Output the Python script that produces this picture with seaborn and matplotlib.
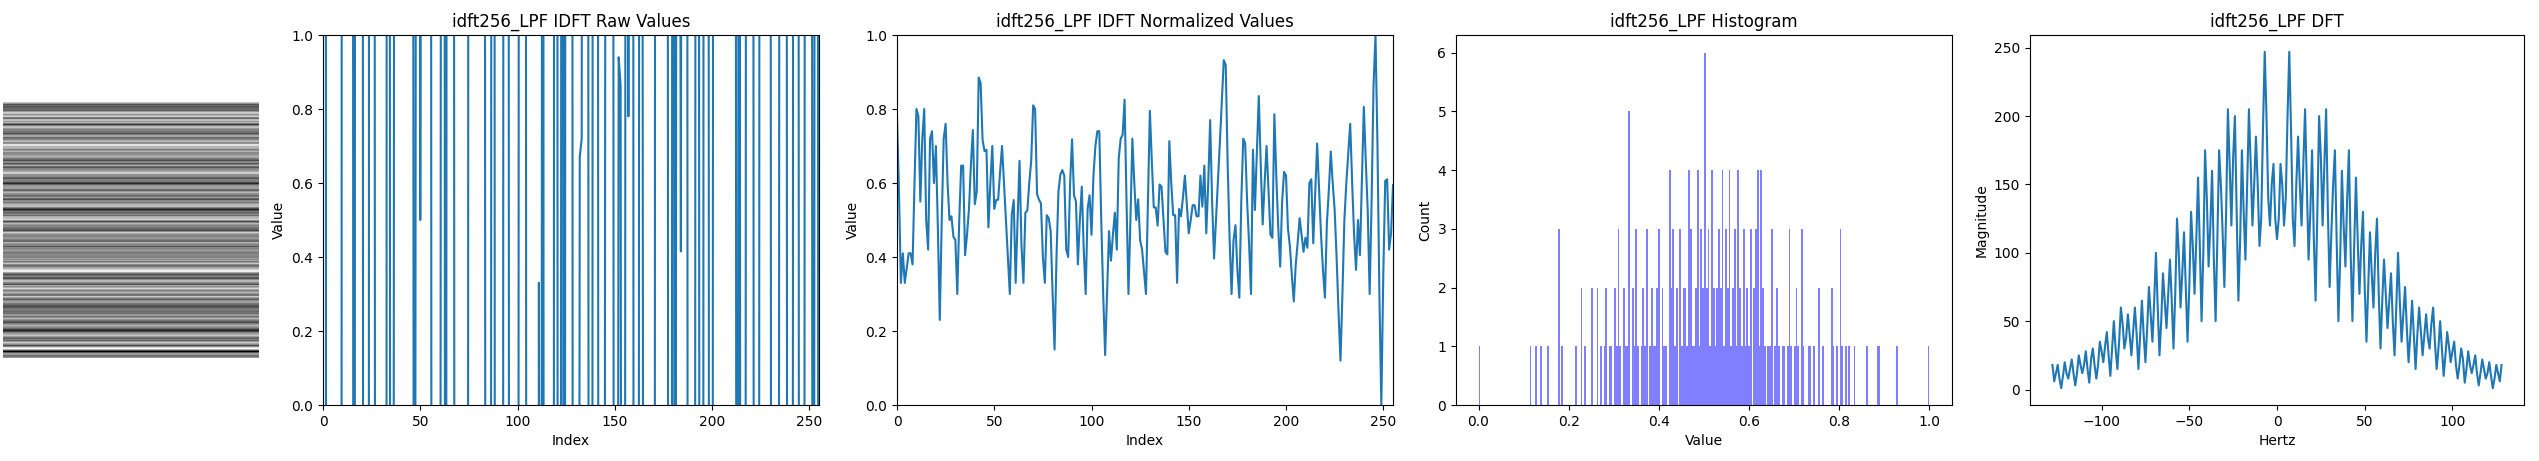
import numpy as np
import seaborn as sns
import matplotlib
matplotlib.use("Agg")
import matplotlib.pyplot as plt

NAME = "idft256_LPF"

# normalized IDFT values
norm_values = [
    .78, .58, .33, .41, .33, .37, .41, .41, .38, .60, .80, .78, .55, .72, .80, .50,
    .42, .72, .74, .60, .70, .48, .23, .50, .72, .76, .60, .50, .51, .455, .446, .30,
    .50, .647, .647, .405, .46, .53, .65, .743, .543, .577, .885, .87, .716, .686, .69, .48,
    .60, .70, .53, .554, .555, .63, .70, .60, .50, .40, .30, .514, .554, .33, .50, .66,
    .43, .33, .52, .525, .60, .66, .81, .80, .57, .555, .545, .40, .33, .513, .505, .47,
    .30, .15, .40, .577, .623, .635, .62, .42, .40, .60, .718, .567, .55, .38, .50, .59,
    .42, .30, .53, .567, .46, .62, .70, .74, .74, .50, .30, .135, .30, .47, .39, .46,
    .52, .42, .667, .72, .73, .825, .55, .30, .50, .72, .60, .50, .556, .445, .42, .36,
    .30, .55, .795, .66, .534, .534, .485, .596, .59, .50, .414, .407, .713, .60, .513, .513,
    .33, .53, .51, .56, .62, .54, .464, .50, .54, .54, .51, .51, .62, .536, .647, .464,
    .60, .77, .55, .396, .50, .60, .71, .82, .932, .919, .65, .45, .30, .446, .486, .365,
    .29, .55, .72, .707, .55, .437, .30, .69, .527, .68, .835, .65, .488, .60, .70, .58,
    .46, .452, .786, .62, .48, .374, .55, .63, .62, .477, .428, .35, .28, .38, .44, .505,
    .46, .414, .452, .425, .60, .61, .437, .57, .707, .58, .46, .365, .29, .49, .58, .685,
    .60, .527, .40, .25, .12, .30, .50, .60, .68, .76, .60, .46, .365, .50, .405, .60,
    .806, .66, .527, .30, .55, .865, 1.0, .707, .30, .0, .35, .606, .61, .42, .464, .595,
]

# raw values mostly run far outside 0..1, only the sign changes show up as spikes
raw_values = [
    9, 14,
    -12, -8, -15, -11, -13, -10, -9, -14,
    11, 10, 9, 12, 13, 8,
    -7,
    12, 9, 10, 8,
    -6, -11, -14,
    10, 12, 7,
    -3, -4, -5, -6, -8, -12,
    6, 6,
    -7, -3,
    5, 9, 11, 6, 16, 15, 10, 8, 8, 4,
    -3,
    3, 7, 0.5, 4, 5, 9, 12, 7,
    -3, -6, -9, -12, -4,
    5, 8,
    -4,
    6, 9, 7, 5,
    -5, -8, -10, -6, -3, -7, -9,
    6, 9, 12, 14, 10, 8, 5, 9, 4,
    -6, -8, -5,
    7, 4,
    -9, -6, -4, -8,
    5, 9, 7,
    -5, -9, -4, -6, -7,
    6, 3, 8, 5,
    -6, -10, -7, -4, -5, -8,
    0.33,
    -5, 6,
    -9, -7, -5, -8, -12,
    5, 9,
    -6, -4,
    7,
    -5,
    6, 9, 8, 4,
    -8, -7, -4,
    0.67, 0.72,
    6, 9, 5,
    -5, -8,
    7, 4, 6,
    -6, -4, -9,
    0.54,
    5, 8, 9, 4,
    -6, -3,
    0.94, 0.865,
    -4, -3,
    6, 0.78, 5, 8,
    -5, -7, -4,
    6, 3,
    -3, -6, -9, -7, -4, -8,
    5, 9, 11, 7, 6, 8, 4,
    -6, -5,
    7,
    -4,
    5, 3, 0.415, 6, 9, 5,
    -7, -9, -5, -3,
    6, 4,
    -5, -7,
    6, 3, 5,
    -8, -4,
    6, 9, 12, 8, 5, 4, 10, 7, 9, 12, 6, 3,
    -4,
    5,
    -6, -8, -3,
    7, 9, 5, 4,
    -6, -8, -3,
    9, 12, 6, 5, 8, 3,
    -7, -9, -5, -4,
    5, 8, 9, 6,
    -5, -3, -8,
    6, 9, 7,
    -4, -7, -6,
    5, 8, 3, 6,
    -5,
    4, 7,
    -6,
]

# histogram counts, one per bin (256 bins over 0..1)
hist_counts = [
    1, 0, 0, 0, 0, 0, 0, 0, 0, 0, 0, 0, 0, 0, 0, 0,
    0, 0, 0, 0, 0, 0, 0, 0, 0, 0, 0, 0, 0, 1, 0, 0,
    1, 0, 0, 1, 0, 0, 0, 1, 0, 0, 0, 0, 0, 3, 0, 1,
    0, 0, 0, 0, 0, 0, 0, 1, 0, 0, 2, 0, 1, 0, 0, 0,
    2, 0, 0, 2, 0, 1, 0, 1, 2, 0, 1, 1, 0, 2, 1, 3,
    1, 0, 2, 1, 1, 5, 0, 2, 1, 3, 1, 0, 1, 2, 1, 3,
    0, 1, 2, 1, 1, 2, 3, 0, 2, 1, 1, 0, 4, 2, 3, 1,
    2, 0, 3, 1, 2, 2, 1, 4, 3, 1, 1, 2, 4, 1, 3, 2,
    6, 2, 3, 1, 4, 2, 1, 2, 3, 2, 4, 1, 3, 2, 4, 1,
    2, 3, 1, 4, 2, 1, 3, 1, 2, 1, 3, 0, 2, 3, 4, 1,
    4, 2, 1, 0, 1, 1, 3, 0, 1, 2, 1, 0, 1, 1, 0, 1,
    3, 1, 0, 1, 2, 1, 0, 3, 1, 0, 0, 1, 1, 0, 1, 0,
    0, 2, 0, 1, 0, 0, 0, 0, 2, 1, 0, 1, 0, 3, 1, 0,
    1, 0, 1, 0, 0, 1, 0, 0, 0, 0, 0, 0, 1, 0, 0, 0,
    0, 0, 1, 1, 0, 0, 0, 0, 0, 0, 0, 0, 0, 1, 0, 0,
    0, 0, 0, 0, 0, 0, 0, 0, 0, 0, 0, 0, 0, 0, 0, 1,
]

# DFT magnitude for 0..128 Hz, the spectrum of a real signal is mirrored around 0
dft_half = [
    110, 125, 165, 150, 120, 140, 200, 247, 190, 125, 105, 150, 185, 150, 120, 165,
    205, 150, 95, 130, 175, 110, 65, 130, 200, 170, 120, 165, 205, 130, 75, 115,
    150, 175, 110, 50, 95, 160, 120, 90, 140, 175, 100, 50, 105, 155, 110, 70,
    105, 130, 75, 35, 75, 115, 85, 60, 100, 125, 70, 30, 65, 95, 70, 45,
    65, 85, 50, 25, 60, 100, 65, 35, 55, 75, 45, 20, 40, 65, 40, 15,
    40, 60, 42, 25, 40, 55, 38, 30, 48, 60, 35, 15, 30, 50, 30, 10,
    25, 42, 32, 20, 28, 35, 18, 8, 18, 30, 22, 5, 15, 28, 18, 12,
    18, 25, 12, 3, 12, 22, 15, 8, 12, 20, 10, 1, 8, 18, 12, 6, 18,
]

assert len(norm_values) == 256, len(norm_values)
assert len(raw_values) == 256, len(raw_values)
assert len(hist_counts) == 256, len(hist_counts)

W, H = 2539, 461
LINE = "#1f77b4"


def add_ax(fig, left, right, top, bottom):
    # pixel box to figure fractions
    return fig.add_axes([left / W, 1 - bottom / H, (right - left) / W, (bottom - top) / H])


fig = plt.figure(figsize=(W / 100, H / 100), dpi=100)

indices = np.arange(256)

# grey image, every row is one normalized value
ax_img = add_ax(fig, 3, 259, 102, 358)
sns.heatmap(np.tile(norm_values, (256, 1)).T, cmap="gray", vmin=0, vmax=1, cbar=False,
            xticklabels=False, yticklabels=False, ax=ax_img)
ax_img.axis("off")

ax_raw = add_ax(fig, 323, 819, 35, 405)
sns.lineplot(x=indices, y=raw_values, color=LINE, ax=ax_raw)
ax_raw.set_xlim(0, 255)
ax_raw.set_ylim(0, 1)
ax_raw.set_title(f"{NAME} IDFT Raw Values")
ax_raw.set_xlabel("Index")
ax_raw.set_ylabel("Value")

ax_norm = add_ax(fig, 897, 1393, 35, 405)
sns.lineplot(x=indices, y=norm_values, color=LINE, ax=ax_norm)
ax_norm.set_xlim(0, 255)
ax_norm.set_ylim(0, 1)
ax_norm.set_title(f"{NAME} IDFT Normalized Values")
ax_norm.set_xlabel("Index")
ax_norm.set_ylabel("Value")

ax_hist = add_ax(fig, 1456, 1952, 35, 405)
sns.histplot(x=(indices + 0.5) / 256, weights=hist_counts, bins=256, binrange=(0, 1),
             color="blue", alpha=0.5, linewidth=0, ax=ax_hist)
ax_hist.set_title(f"{NAME} Histogram")
ax_hist.set_xlabel("Value")
ax_hist.set_ylabel("Count")

ax_dft = add_ax(fig, 2030, 2524, 35, 405)
dft_values = dft_half[:0:-1] + dft_half
sns.lineplot(x=np.arange(-128, 129), y=dft_values, color=LINE, ax=ax_dft)
ax_dft.set_title(f"{NAME} DFT")
ax_dft.set_xlabel("Hertz")
ax_dft.set_ylabel("Magnitude")

fig.savefig("out.png", dpi=100)
